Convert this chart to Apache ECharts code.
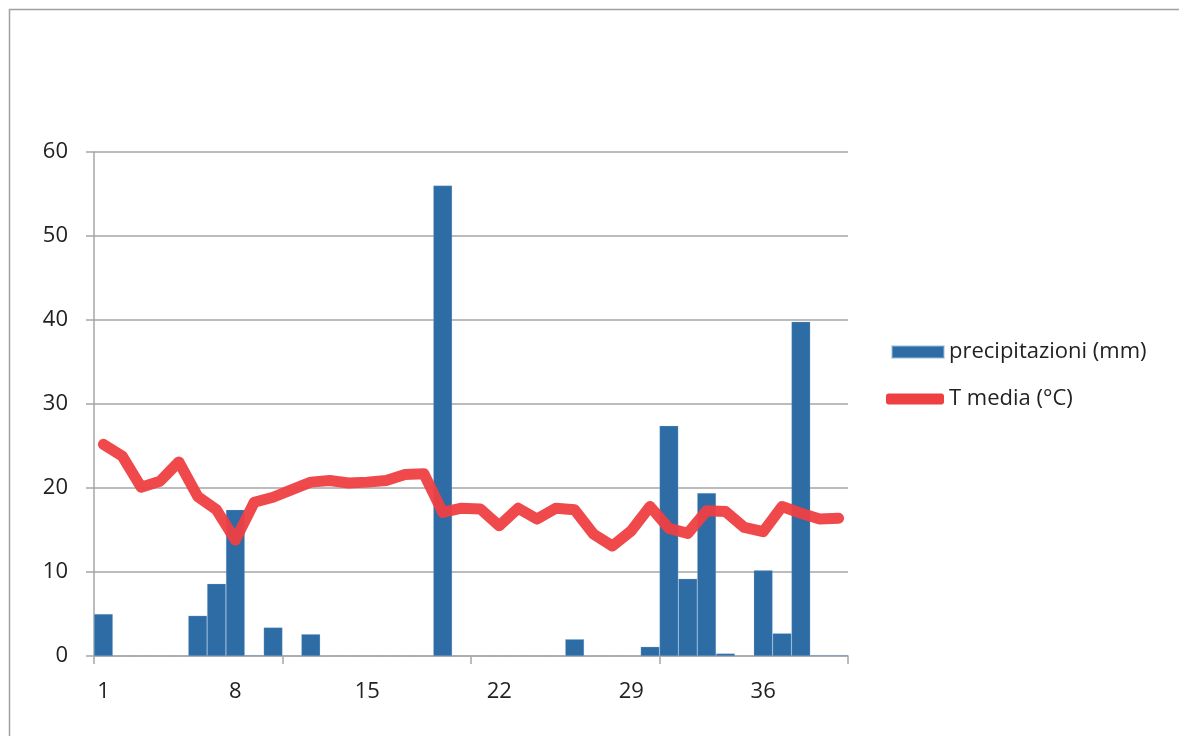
<!DOCTYPE html>
<html>
<head>
<meta charset="utf-8">
<script src="https://cdn.jsdelivr.net/npm/echarts@6/dist/echarts.min.js"></script>
<style>html,body{margin:0;padding:0;background:#fff}#c{width:1179px;height:736px}</style>
</head>
<body>
<div id="c"></div>
<script>
var categories = [];
for (var i = 1; i <= 40; i++) categories.push(String(i));
var precipitazioni = [5.0,0,0,0,0,4.8,8.6,17.4,0.1,3.4,0,2.6,0,0,0,0,0,0,56.0,0,0,0,0,0,0,2.0,0,0,0,1.1,27.4,9.2,19.4,0.3,0,10.2,2.7,39.8,0.1,0.1];
var tMedia = [25.2,23.8,20.1,20.8,23.1,19.0,17.4,13.8,18.3,18.9,19.8,20.7,20.9,20.6,20.7,20.9,21.6,21.7,17.1,17.6,17.5,15.5,17.6,16.3,17.6,17.4,14.5,13.1,14.9,17.8,15.2,14.6,17.3,17.2,15.3,14.8,17.8,17.0,16.3,16.4];
var yTicks = [0,10,20,30,40,50,60];

var chart = echarts.init(document.getElementById('c'));
var font = '"Open Sans", Lato, sans-serif';
chart.setOption({
  animation: false,
  backgroundColor: '#fff',
  graphic: [{
    type: 'rect', shape: {x: 9.5, y: 9.5, width: 1200, height: 800},
    style: {fill: 'none', stroke: '#A0A0A0', lineWidth: 1.5}, silent: true
  }],
  grid: {left: 94, right: 331, top: 152, bottom: 80},
  legend: [{
    orient: 'vertical', left: 891, top: 339, padding: 0, itemWidth: 52, itemHeight: 12, itemGap: 0,
    icon: 'rect', data: ['precipitazioni (mm)'],
    textStyle: {fontFamily: font, fontSize: 22, lineHeight: 26, color: '#222'}
  }, {
    orient: 'vertical', left: 886, top: 386, padding: 0, itemWidth: 58, itemHeight: 11, itemGap: 0,
    icon: 'roundRect', data: ['T media (°C)'],
    itemStyle: {color: '#EE3F42'},
    textStyle: {fontFamily: font, fontSize: 22, lineHeight: 26, color: '#222'}
  }],
  xAxis: {
    type: 'category', data: categories, boundaryGap: true,
    axisLine: {lineStyle: {color: '#A6A6A6', width: 1.5}},
    axisTick: {show: true, interval: 9, length: 8, lineStyle: {color: '#A6A6A6', width: 1.5}},
    axisLabel: {interval: 6, margin: 25, fontFamily: font, fontSize: 22, color: '#222'},
    splitLine: {show: false}
  },
  yAxis: {
    type: 'value', min: yTicks[0], max: yTicks[yTicks.length-1], interval: 10,
    axisLine: {show: true, lineStyle: {color: '#A6A6A6', width: 1.5}},
    axisTick: {show: true, length: 8, lineStyle: {color: '#A6A6A6', width: 1.5}},
    axisLabel: {margin: 26, fontFamily: font, fontSize: 22, color: '#222'},
    splitLine: {lineStyle: {color: '#A6A6A6', width: 1.5}}
  },
  series: [{
    name: 'precipitazioni (mm)', type: 'bar', data: precipitazioni,
    barCategoryGap: '0%', barGap: '0%',
    itemStyle: {color: '#2E6CA6', borderColor: 'rgba(160,190,220,0.5)', borderWidth: 0.5},
    z: 2
  }, {
    name: 'T media (°C)', type: 'line', data: tMedia,
    symbol: 'none', smooth: false,
    lineStyle: {color: '#EE3F42', width: 11, opacity: 0.95, cap: 'round', join: 'round'},
    itemStyle: {color: '#EE3F42'},
    z: 3
  }]
});
</script>
</body>
</html>
